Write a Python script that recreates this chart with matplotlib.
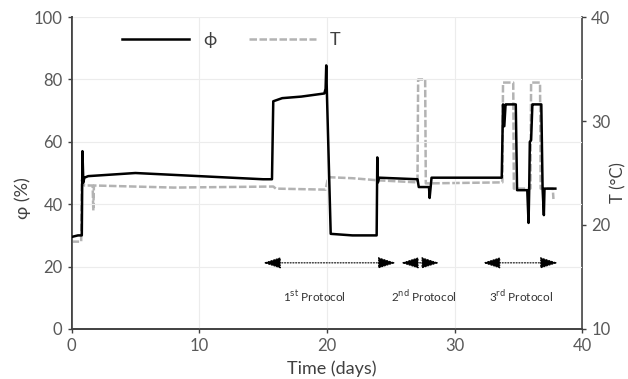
import matplotlib
matplotlib.use("Agg")
import matplotlib.pyplot as plt

plt.rcParams['font.family'] = ['Lato', 'DejaVu Sans']

# relative humidity phi (%)
phi_t = [0.0, 0.5, 0.8, 0.85, 0.92, 1.0, 1.3, 5.0, 10.0, 15.0, 15.7, 15.8, 16.5, 18.0, 19.8,
         19.9, 19.95, 20.0, 20.3, 22.0, 23.9, 23.95, 24.0, 24.05, 24.1, 27.1, 27.2, 28.0,
         28.05, 28.2, 33.7, 33.8, 33.9, 34.0, 34.1, 34.8, 34.9, 35.7, 35.8, 35.85, 35.9,
         36.0, 36.1, 36.2, 36.8, 36.9, 37.0, 37.05, 37.1, 37.9]
phi_v = [29.5, 30.0, 30.0, 57.0, 47.0, 48.5, 49.0, 50.0, 49.0, 48.0, 48.0, 73.0, 74.0, 74.5, 75.5,
         77.0, 84.5, 76.0, 30.5, 30.0, 30.0, 55.0, 47.0, 48.0, 48.5, 48.0, 45.5, 45.5,
         42.0, 48.5, 48.5, 72.0, 65.0, 72.0, 72.0, 72.0, 44.5, 44.5, 34.0, 44.5, 60.0,
         60.5, 72.0, 72.0, 72.0, 45.0, 36.5, 45.0, 45.0, 45.0]

# temperature T (degC), right axis
T_t = [0.0, 0.75, 0.8, 1.0, 1.65, 1.7, 1.75, 8.0, 15.8, 16.0, 19.9, 20.1, 22.0, 24.0,
       27.1, 27.15, 27.7, 27.75, 33.75, 33.8, 34.6, 34.65, 35.95, 36.0, 36.7, 36.75,
       37.7, 37.75]
T_v = [18.4, 18.4, 24.3, 23.8, 23.8, 21.4, 23.8, 23.6, 23.7, 23.5, 23.4, 24.6, 24.5, 24.3,
       24.1, 34.0, 34.0, 24.0, 24.1, 33.7, 33.7, 23.5, 23.5, 33.7, 33.7, 23.5,
       23.5, 22.5]

# protocol ranges (days) and labels
prot_start = [15.0, 25.8, 32.2]
prot_end = [25.4, 28.8, 38.1]
prot_text_x = [19.0, 27.6, 35.2]
prot_labels = ['1$^{\\mathrm{st}}$ Protocol', '2$^{\\mathrm{nd}}$ Protocol', '3$^{\\mathrm{rd}}$ Protocol']

tick_color = '#595959'

fig = plt.figure(figsize=(6.28, 3.79), dpi=100)
ax = fig.add_axes([0.114, 0.132, 0.813, 0.823])
ax2 = ax.twinx()

l1, = ax.plot(phi_t, phi_v, color='black', lw=1.8, label='ϕ', zorder=3)
l2, = ax2.plot(T_t, T_v, color='#b3b3b3', lw=1.8, ls=(0, (3, 1)), label='T', zorder=2)
ax.set_zorder(ax2.get_zorder() + 1)
ax.patch.set_visible(False)

ax.set_xlim(0, 40)
ax.set_ylim(0, 100)
ax2.set_ylim(10, 40)
ax.set_xticks([0, 10, 20, 30, 40])
ax.set_yticks([0, 20, 40, 60, 80, 100])
ax2.set_yticks([10, 20, 30, 40])
ax.grid(True, color='#ececec', lw=0.8)

for a in (ax, ax2):
    for s in a.spines.values():
        s.set_color('#404040')
        s.set_linewidth(1.2)
    a.spines['top'].set_visible(False)
    a.tick_params(colors='#404040', labelcolor=tick_color, labelsize=12, length=3, width=1)
ax.spines['right'].set_visible(False)

for s, e, tx, lab in zip(prot_start, prot_end, prot_text_x, prot_labels):
    ax.annotate('', xy=(s, 21.2), xytext=(e, 21.2),
                arrowprops=dict(arrowstyle='<|-|>,head_length=1.1,head_width=0.35',
                                color='black', lw=0.8, ls=(0, (1, 1.5)),
                                shrinkA=0, shrinkB=0))
    ax.text(tx, 10.5, lab, fontsize=8.5, color='#333333', ha='center', va='center')

ax.set_xlabel('Time (days)', fontsize=13, color='#404040')
ax.xaxis.set_label_coords(0.51, -0.1)
ax.set_ylabel('φ (%)', fontsize=13, color='#404040')
ax.yaxis.set_label_coords(-0.08, 0.42)
ax2.set_ylabel('T (°C)', fontsize=12, color='#404040')
ax2.yaxis.set_label_coords(1.055, 0.47)

ax.legend([l1, l2], ['ϕ', 'T'], ncol=2, frameon=False, loc='center',
          bbox_to_anchor=(0.313, 0.926), handlelength=3.7, columnspacing=1.8,
          fontsize=13, labelcolor='#404040')

fig.savefig('out.png', dpi=100)
